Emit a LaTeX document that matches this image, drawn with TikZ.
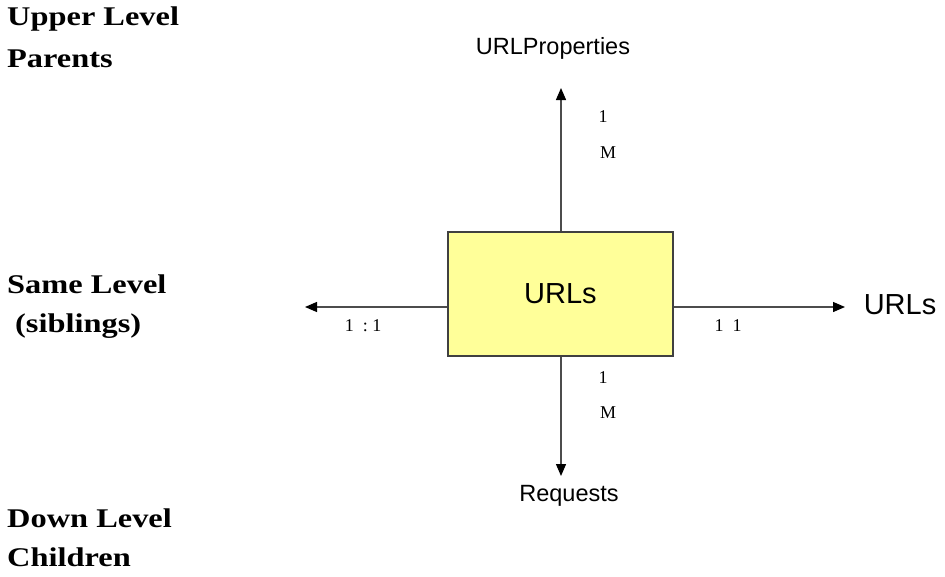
\documentclass[tikz,border=0pt]{standalone}
\usepackage{fontspec}
\setmainfont{Liberation Serif}
\newfontfamily\arialf{Liberation Sans}
\usetikzlibrary{arrows.meta}
\begin{document}
\begin{tikzpicture}[x=1pt,y=-1pt,
  conn/.style={draw=black!70,line width=1.3pt,-{Triangle[length=12pt,width=10pt,color=black]}},
  levellabel/.style={anchor=west,inner sep=0pt,font=\fontsize{27}{30}\selectfont\bfseries},
  sanslabel/.style={inner sep=0pt,font=\arialf\fontsize{23.5}{26}\selectfont},
  card/.style={inner sep=0pt,font=\fontsize{18}{20}\selectfont}]
\useasboundingbox (0,0) rectangle (945,576);
\node[draw=black!75,line width=1.3pt,fill={rgb,255:red,255;green,255;blue,153},minimum width=225pt,minimum height=124pt,inner sep=0pt,font=\arialf\fontsize{29}{32}\selectfont] (urls) at (560.5,294) {URLs};
\coordinate (upend) at (561,88);
\coordinate (downend) at (561,476);
\coordinate (leftend) at (305,307);
\coordinate (rightend) at (845,307);
\draw[conn] (urls.north -| upend) -- (upend);
\draw[conn] (urls.south -| downend) -- (downend);
\draw[conn] (urls.west |- leftend) -- (leftend);
\draw[conn] (urls.east |- rightend) -- (rightend);
\node[sanslabel] (props) at (553,48) {URLProperties};
\node[sanslabel] (req) at (569,496) {Requests};
\node[inner sep=0pt,font=\arialf\fontsize{29}{32}\selectfont] (urls2) at (900,305) {URLs};
\node[card] (t1) at (603,117) {1};
\node[card] (tm) at (608,153) {M};
\node[card] (b1) at (603,378) {1};
\node[card] (bm) at (608,413) {M};
\node[card] (l11) at (363,326) {1\ \ :\ 1};
\node[card] (r11) at (728,326) {1\ \ 1};
\node[levellabel] (ul1) at (7,19) {\scalebox{1.2}[1]{Upper Level}};
\node[levellabel] (ul2) at (7,59) {\scalebox{1.2}[1]{Parents}};
\node[levellabel] (sl1) at (7,284) {\scalebox{1.2}[1]{Same Level}};
\node[levellabel] (sl2) at (15,326) {\scalebox{1.2}[1]{(siblings)}};
\node[levellabel] (dl1) at (7,518) {\scalebox{1.2}[1]{Down Level}};
\node[levellabel] (dl2) at (7,557) {\scalebox{1.2}[1]{Children}};
\end{tikzpicture}
\end{document}
